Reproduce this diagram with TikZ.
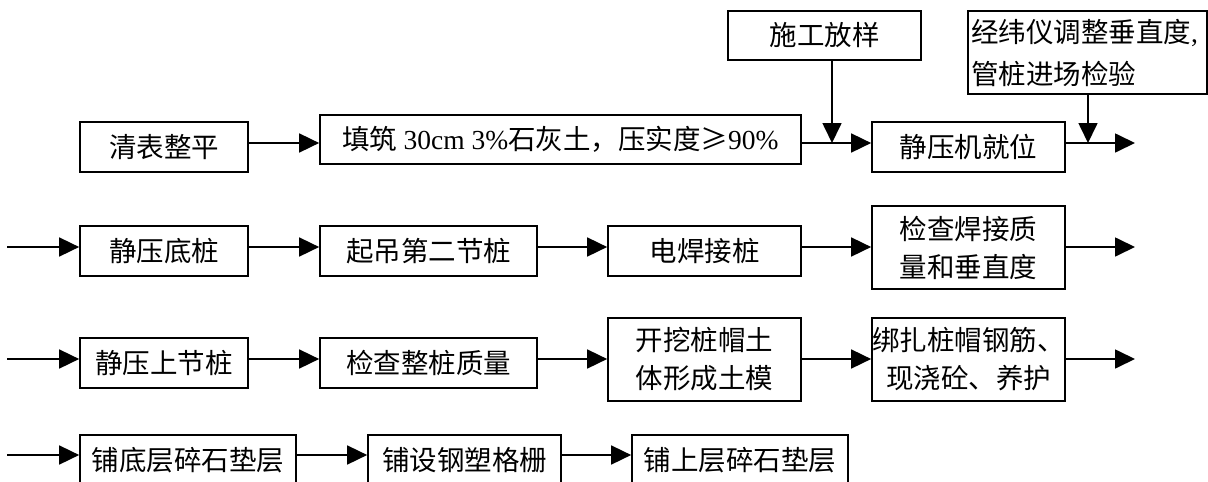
\documentclass[tikz,border=0pt]{standalone}
\usepackage{fontspec}
\setmainfont{Liberation Serif}
\newfontfamily\cjk{Noto Sans CJK SC}
\usetikzlibrary{arrows.meta}
\begin{document}
\begin{tikzpicture}[x=1pt,y=-1pt,
  box/.style={draw,line width=1.7pt,inner sep=0pt,align=center,
    font={\cjk\fontsize{27.5pt}{38pt}\selectfont}},
  arr/.style={line width=1.7pt,-{Triangle[length=20pt,width=19pt]}}]
\useasboundingbox (0,0) rectangle (1208,482);
\clip (0,0) rectangle (1208,482);
\fill[white] (0,0) rectangle (1208,482);
% row 1
\node[box,minimum width=168pt,minimum height=50pt] (qb) at (164,147) {清表整平};
\node[box,minimum width=481pt,minimum height=49pt] (tz) at (560.5,139.5) {填筑 {\rmfamily 30cm 3\%}石灰土，压实度≥{\rmfamily 90\%}};
\node[box,minimum width=193pt,minimum height=49pt] (sg) at (824.5,35.5) {施工放样};
\node[box,minimum width=193pt,minimum height=50pt] (jy) at (968.5,147) {静压机就位};
\node[box,minimum width=239pt,minimum height=83pt,align=left,text width=233pt,
  font={\cjk\fontsize{27.5pt}{42pt}\selectfont}] (jw) at (1087.5,52.5) {经纬仪调整垂直度{\rmfamily ,}\\管桩进场检验};
% row 2
\node[box,minimum width=168pt,minimum height=50pt] (dz) at (164,251) {静压底桩};
\node[box,minimum width=217pt,minimum height=50pt] (qd) at (428.5,251) {起吊第二节桩};
\node[box,minimum width=193pt,minimum height=50pt] (dh) at (704.5,251) {电焊接桩};
\node[box,minimum width=193pt,minimum height=83pt] (jc) at (968.5,247.5) {检查焊接质\\量和垂直度};
% row 3
\node[box,minimum width=168pt,minimum height=50pt] (sj) at (164,363) {静压上节桩};
\node[box,minimum width=217pt,minimum height=50pt] (zz) at (428.5,363) {检查整桩质量};
\node[box,minimum width=193pt,minimum height=83pt] (kw) at (704.5,359.5) {开挖桩帽土\\体形成土模};
\node[box,minimum width=193pt,minimum height=83pt] (bz) at (968.5,359.5) {绑扎桩帽钢筋、\\现浇砼、养护};
% row 4
\node[box,minimum width=216pt,minimum height=50pt] (pd) at (188,460) {铺底层碎石垫层};
\node[box,minimum width=193pt,minimum height=50pt] (ps) at (464.5,460) {铺设钢塑格栅};
\node[box,minimum width=216pt,minimum height=50pt] (psh) at (740,460) {铺上层碎石垫层};
% helper coordinates
\coordinate (y1) at (0,143);
\coordinate (y2) at (0,247);
\coordinate (y3) at (0,359);
\coordinate (y4) at (0,455);
\coordinate (sgx) at (832,0);
\coordinate (jwx) at (1088,0);
\coordinate (e1) at (1135,143);
\coordinate (e2) at (1135,247);
\coordinate (e3) at (1135,359);
\coordinate (s2) at (7,247);
\coordinate (s3) at (7,359);
\coordinate (s4) at (7,455);
% row 1 connectors
\draw[arr] (qb.east |- y1) -- (tz.west |- y1);
\draw[arr] (tz.east |- y1) -- (jy.west |- y1);
\draw[arr] (sg.south -| sgx) -- (sgx |- y1);
\draw[arr] (jw.south -| jwx) -- (jwx |- y1);
\draw[arr] (jy.east |- y1) -- (e1);
% row 2
\draw[arr] (s2) -- (dz.west |- y2);
\draw[arr] (dz.east |- y2) -- (qd.west |- y2);
\draw[arr] (qd.east |- y2) -- (dh.west |- y2);
\draw[arr] (dh.east |- y2) -- (jc.west |- y2);
\draw[arr] (jc.east |- y2) -- (e2);
% row 3
\draw[arr] (s3) -- (sj.west |- y3);
\draw[arr] (sj.east |- y3) -- (zz.west |- y3);
\draw[arr] (zz.east |- y3) -- (kw.west |- y3);
\draw[arr] (kw.east |- y3) -- (bz.west |- y3);
\draw[arr] (bz.east |- y3) -- (e3);
% row 4
\draw[arr] (s4) -- (pd.west |- y4);
\draw[arr] (pd.east |- y4) -- (ps.west |- y4);
\draw[arr] (ps.east |- y4) -- (psh.west |- y4);
\end{tikzpicture}
\end{document}
